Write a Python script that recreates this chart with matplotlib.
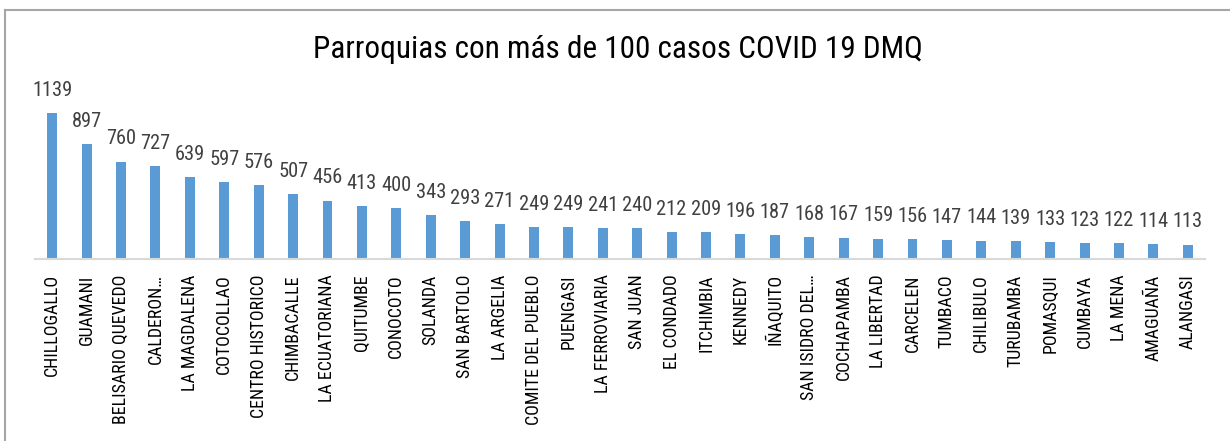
import matplotlib
matplotlib.use("Agg")
import matplotlib.pyplot as plt
from matplotlib.lines import Line2D

parroquias = ["CHILLOGALLO", "GUAMANI", "BELISARIO QUEVEDO", "CALDERON…", "LA MAGDALENA",
              "COTOCOLLAO", "CENTRO HISTORICO", "CHIMBACALLE", "LA ECUATORIANA", "QUITUMBE",
              "CONOCOTO", "SOLANDA", "SAN BARTOLO", "LA ARGELIA", "COMITE DEL PUEBLO",
              "PUENGASI", "LA FERROVIARIA", "SAN JUAN", "EL CONDADO", "ITCHIMBIA",
              "KENNEDY", "IÑAQUITO", "SAN ISIDRO DEL…", "COCHAPAMBA", "LA LIBERTAD",
              "CARCELEN", "TUMBACO", "CHILIBULO", "TURUBAMBA", "POMASQUI",
              "CUMBAYA", "LA MENA", "AMAGUAÑA", "ALANGASI"]
casos = [1139, 897, 760, 727, 639, 597, 576, 507, 456, 413,
         400, 343, 293, 271, 249, 249, 241, 240, 212, 209,
         196, 187, 168, 167, 159, 156, 147, 144, 139, 133,
         123, 122, 114, 113]
titulo = "Parroquias con más de 100 casos COVID 19 DMQ"

FONT = ["Roboto Condensed", "Roboto", "DejaVu Sans"]

W, H = 1230, 441
fig = plt.figure(figsize=(W / 100, H / 100), dpi=100)
fig.patch.set_facecolor("white")

# axes in pixel coords
left_px, right_px, base_px = 35, 1205, 259
ymax = 1200
px_per_unit = 146 / 1139
top_px = base_px - ymax * px_per_unit
ax = fig.add_axes([left_px / W, (H - base_px) / H, (right_px - left_px) / W, (base_px - top_px) / H])
ax.set_facecolor("none")

x = list(range(len(casos)))
ax.bar(x, casos, width=0.29, color="#5B9BD5", zorder=2)
ax.set_xlim(-0.5, len(casos) - 0.5)
ax.set_ylim(0, ymax)

for s in ["top", "right", "left"]:
    ax.spines[s].set_visible(False)
ax.spines["bottom"].set_color("#D9D9D9")
ax.spines["bottom"].set_linewidth(1.5)
ax.set_yticks([])
ax.set_xticks(x)
ax.set_xticklabels(parroquias, rotation=90, fontsize=12.9, family=FONT, color="#000000", va="top")
ax.tick_params(axis="x", length=0, pad=11)

for xi, v in zip(x, casos):
    ax.annotate(str(v), (xi, v), xytext=(0, 9.5), textcoords="offset points",
                ha="center", va="bottom", fontsize=14.7, family=FONT, color="#404040",
                clip_on=False)

fig.text(618 / W, 1 - 50 / H, titulo, ha="center", va="center", fontsize=22.5,
         family=FONT, color="#000000")

# chart frame
fig.add_artist(Line2D([5 / W, 1.0], [1 - 10 / H, 1 - 10 / H], transform=fig.transFigure,
                      color="#A6A6A6", lw=1.5))
fig.add_artist(Line2D([5 / W, 5 / W], [1 - 10 / H, 0], transform=fig.transFigure,
                      color="#A6A6A6", lw=1.5))

fig.savefig("out.png", dpi=100)
